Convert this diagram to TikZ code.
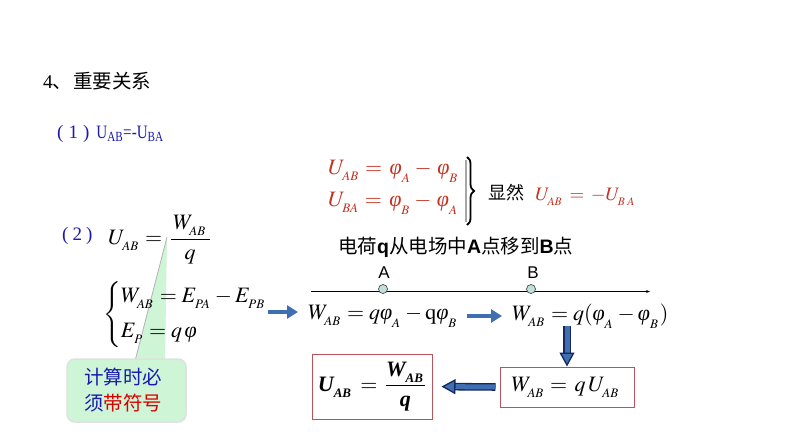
\documentclass[tikz,border=0pt]{standalone}
\usepackage{amsmath}
\usepackage{mathptmx}
\usepackage{fontspec}
\setmainfont{Liberation Serif}
\setsansfont{Liberation Sans}
\newfontfamily\cjk{Noto Sans CJK SC}
\usepackage{tikz}
\usetikzlibrary{arrows.meta,decorations.pathreplacing}
\DeclareMathSizes{22}{22}{13}{10}
\DeclareMathSizes{19}{19}{11.5}{9}
\definecolor{eqred}{HTML}{C5301F}
\definecolor{txtblue}{HTML}{1A1AB0}
\definecolor{boxred}{HTML}{B9545A}
\definecolor{tipgreen}{HTML}{CDF5D6}
\definecolor{arrowblue}{HTML}{3F6FB0}
\definecolor{arrownavy}{HTML}{14285F}
\definecolor{dotfill}{HTML}{BFE0DC}
\newcommand{\dn}[1]{_{\lower 2.5pt\hbox{$\scriptstyle #1$}\,}}
\newcommand{\phiv}{\text{\itshape φ}}
\newcommand{\bi}[1]{\text{\bfseries\itshape #1}}
\tikzset{
  eqn/.style={anchor=west,inner sep=0pt,font=\fontsize{22}{26}\selectfont},
  redeqn/.style={eqn,text=eqred},
  note/.style={anchor=west,inner sep=0pt,font=\fontsize{19}{23}\selectfont\cjk},
  resultbox/.style={draw=boxred,line width=1pt,inner sep=0pt,font=\fontsize{22}{26}\selectfont},
  thinarrow/.style={draw=arrowblue,line width=4pt,-{Triangle[length=11pt,width=13pt,fill=arrowblue]}},
  fatarrow/.style={draw=arrownavy,double=arrowblue,line width=1.3pt,double distance=5pt,
    -{Triangle[length=14pt,width=15pt,fill=arrowblue,color=arrownavy]}},
  dot/.style={circle,draw=black!70,fill=dotfill,line width=.7pt,minimum size=9pt,inner sep=0pt}
}

\begin{document}
\begin{tikzpicture}[x=1pt,y=-1pt]
\useasboundingbox (0,0) rectangle (794,447);
% callout behind the formulas
\coordinate (tailtip) at (167,237);
\coordinate (tailL) at (135,361);
\coordinate (tailR) at (165,361);
\fill[tipgreen] (tailtip) -- (tailL) -- (tailR) -- cycle;
\draw[black!30,line width=.8pt] (tailtip) -- (tailL);
\node[draw=black!12,line width=1.5pt,fill=tipgreen,rounded corners=8pt,minimum width=119pt,minimum height=63pt,inner sep=0pt,
  font=\fontsize{19.5}{26}\selectfont\cjk,align=left] (warn) at (126.5,390.5)
  {\textcolor{txtblue}{计算时必}\hspace*{7pt}\\\textcolor{txtblue}{须}\textcolor{red!85!black}{带符号}\hspace*{7pt}};

\node[note,font=\fontsize{19.5}{23}\selectfont\cjk] (title) at (43,81) {{\rmfamily 4}、\hspace{1pt}重要关系};
\node[note,text=txtblue,font=\fontsize{19}{23}\selectfont\rmfamily] (rel1) at (57,134)
  {(\hspace{5pt}1\hspace{5pt})\hspace{7pt}\scalebox{.84}[1.05]{\fontsize{18}{22}\selectfont U\textsubscript{AB}=-U\textsubscript{BA}}};
\node[note,text=txtblue,font=\fontsize{19}{23}\selectfont\rmfamily] (rel2) at (62,236) {(\hspace{4pt}2\hspace{4pt})};

\node[redeqn] (eqUab) at (328,171) {$U\dn{AB}=\,\phiv\dn{A}-\,\phiv\dn{B}$};
\node[redeqn] (eqUba) at (328,203) {$U\dn{BA}=\,\phiv\dn{B}-\,\phiv\dn{A}$};
\coordinate (braceT) at (467,157);
\coordinate (braceB) at (467,225);
\draw[black!35,line width=1.6pt] (466,160) -- (466,222);
\draw[black,line width=1.8pt,decorate,decoration={brace,amplitude=7pt}] (braceT) -- (braceB);
\node[note,font=\fontsize{18}{20}\selectfont\cjk] (clear) at (488,193) {显然};
\node[redeqn,font=\fontsize{19}{23}\selectfont] (eqNeg) at (535,197) {$U\dn{AB}\,=\,-U\dn{B\;A}$};

\node[note,font=\fontsize{19.5}{22}\selectfont\cjk] (move) at (338,247)
  {电荷{\sffamily\bfseries q}从电场中{\sffamily\bfseries A}点移到{\sffamily\bfseries B}点};

\coordinate (axisL) at (311,291.5);
\coordinate (axisR) at (650,291.5);
\draw[black,line width=.9pt,-{Stealth[length=4pt]}] (axisL) -- (axisR);
\node[dot] (ptA) at (383,289) {};
\node[dot] (ptB) at (531,289) {};
\node[inner sep=0pt,font=\fontsize{17}{19}\selectfont\sffamily] (labA) at (384,273) {A};
\node[inner sep=0pt,font=\fontsize{17}{19}\selectfont\sffamily] (labB) at (533,273) {B};

\node[eqn] (eqDef) at (108,240) {$U\dn{AB}=\,\dfrac{\,W\dn{AB}\,}{q}$};
\node[eqn] (sys) at (103,315) {$\left\{\begin{array}{@{}l@{}}W\dn{AB}=E\dn{PA}-E\dn{PB}\\[9pt]E\dn{P}=q\,\phiv\end{array}\right.$};
\node[eqn] (eqSplit) at (308,316) {$W\dn{AB}=q\phiv\dn{A}-\mathrm{q}\phiv\dn{B}$};
\node[eqn] (eqFactor) at (512,316) {$W\dn{AB}=q(\phiv\dn{A}-\phiv\dn{B})$};
\node[resultbox,minimum width=134pt,minimum height=40pt] (boxW) at (567,387) {$W\dn{AB}=\,q\,U\dn{AB}\,$};
\node[resultbox,minimum width=120pt,minimum height=65pt] (boxU) at (372,386.5)
  {$\bi{U}\dn{\bi{AB}}\,\boldsymbol{=}\,\dfrac{\bi{W}\dn{\bi{AB}}}{\bi{q}}$};

\coordinate (sysOut) at (sys.east |- eqSplit.west);
\draw[thinarrow,shorten >=10pt] ([yshift=4pt]sysOut) -- ([yshift=4pt]eqSplit.west);
\draw[thinarrow,shorten <=8pt,shorten >=10pt] (eqSplit.east) -- (eqFactor.west);
\draw[fatarrow] (boxW.north |- 0,326) -- (boxW.north);
\draw[fatarrow,shorten <=4pt,shorten >=9pt] (boxW.west) -- (boxU.east);
\end{tikzpicture}
\end{document}
